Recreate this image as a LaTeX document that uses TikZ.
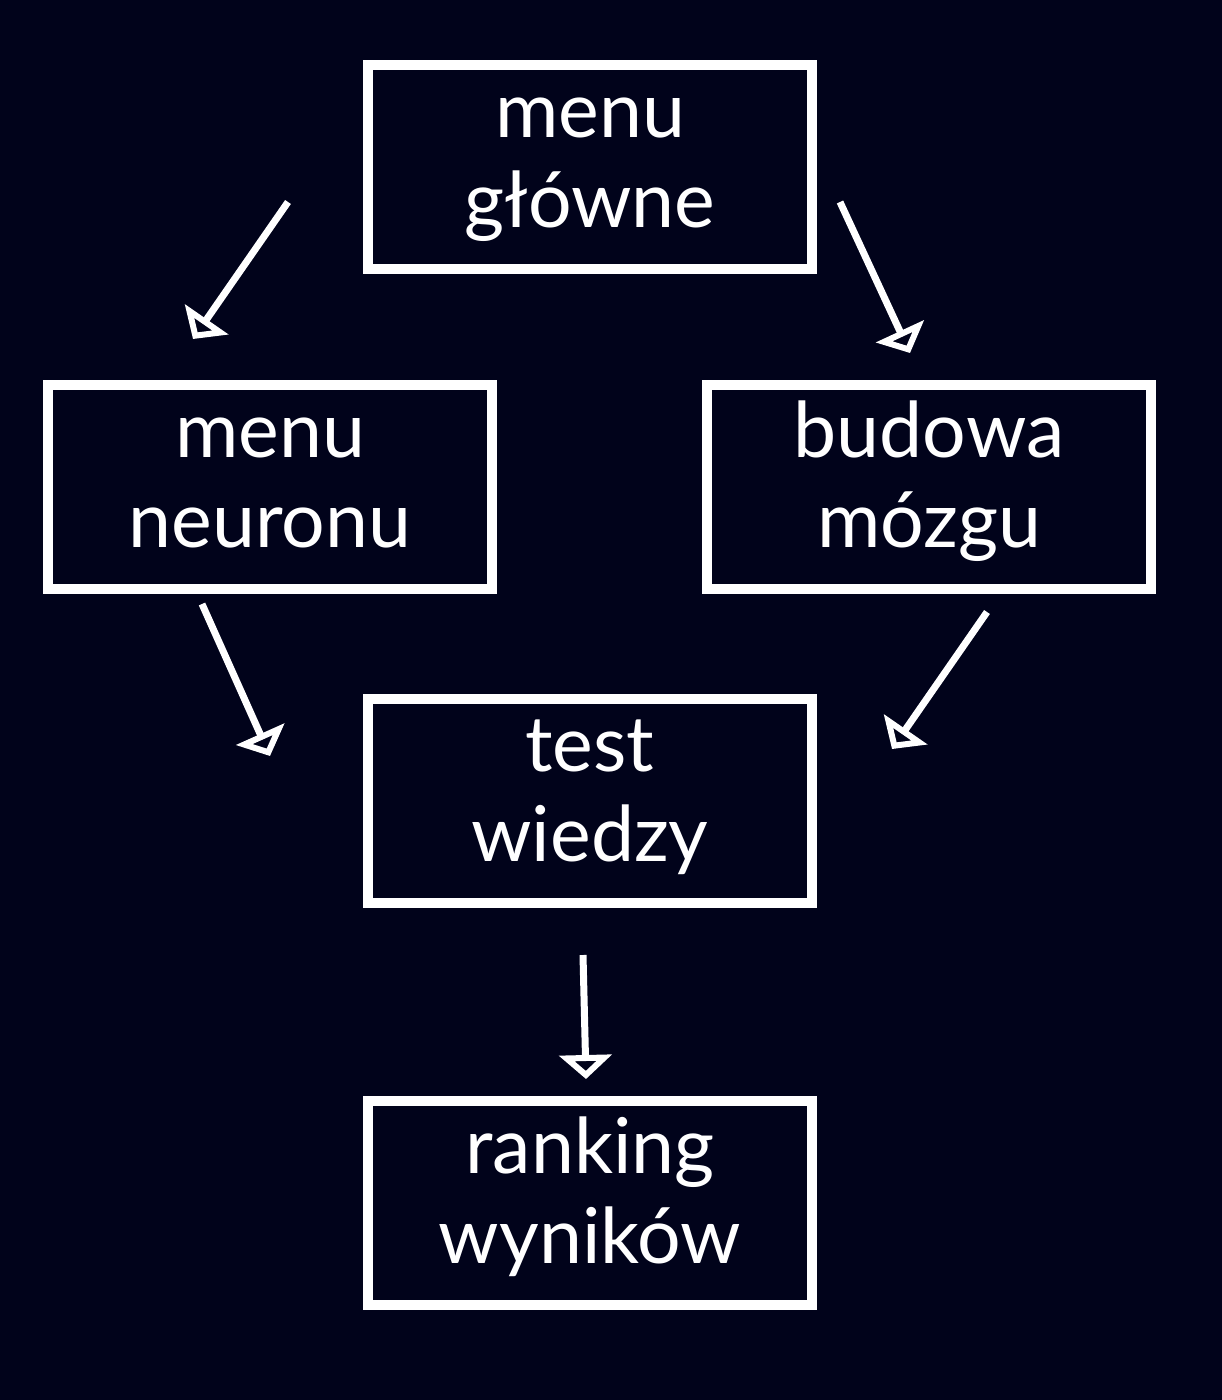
\documentclass[tikz,border=0pt]{standalone}
\usepackage{fontspec}
\setmainfont{Lato}
\usetikzlibrary{arrows.meta}
\definecolor{bg}{RGB}{1,3,27}
\begin{document}
\begin{tikzpicture}[x=1pt,y=-1pt,
  box/.style={draw=white,line width=10pt,minimum width=444pt,minimum height=204pt,inner sep=0pt},
  lbl/.style={text=white,align=center,font=\fontsize{77pt}{90pt}\selectfont,yshift=3pt},
  arr/.style={draw=white,line width=7pt,-{Triangle[open,length=24pt,width=52pt,line width=10pt 0]}}]
\path[fill=bg] (0,0) rectangle (1222,1400);
\useasboundingbox (0,0) rectangle (1222,1400);
\node[box] (top) at (590,167) {};
\node[box] (left) at (270,487) {};
\node[box] (right) at (929,487) {};
\node[box] (test) at (590,801) {};
\node[box] (rank) at (590,1203) {};
\node[lbl] (ttop) at (top) {\strut menu\\główne\strut};
\node[lbl] (tleft) at (left) {\strut menu\\neuronu\strut};
\node[lbl] (tright) at (right) {\strut budowa\\mózgu\strut};
\node[lbl] (ttest) at (test) {\strut test\\wiedzy\strut};
\node[lbl] (trank) at (rank) {\strut ranking\\wyników\strut};
\coordinate (a1s) at (288,202); \coordinate (a1e) at (193,339);
\coordinate (a2s) at (840,202); \coordinate (a2e) at (910,353);
\coordinate (a3s) at (202,604); \coordinate (a3e) at (270,756);
\coordinate (a4s) at (987,612); \coordinate (a4e) at (892,749);
\coordinate (a5s) at (583,955); \coordinate (a5e) at (586,1079);
\draw[arr] (a1s) -- (a1e);
\draw[arr] (a2s) -- (a2e);
\draw[arr] (a3s) -- (a3e);
\draw[arr] (a4s) -- (a4e);
\draw[arr] (a5s) -- (a5e);
\end{tikzpicture}
\end{document}
